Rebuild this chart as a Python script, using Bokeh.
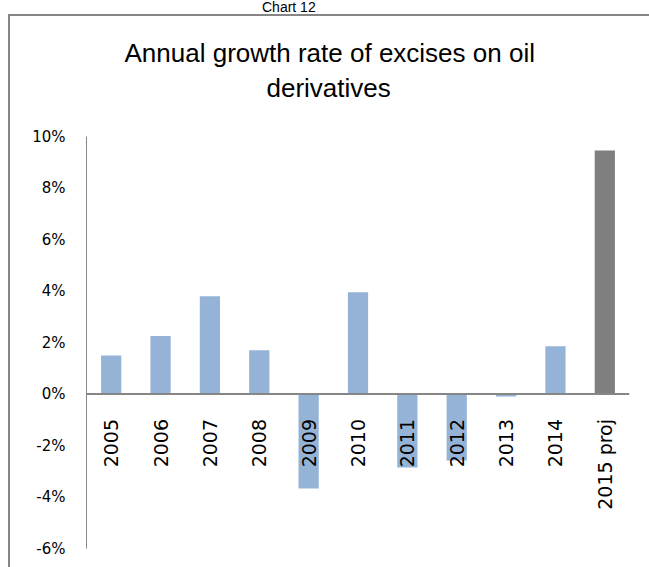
import math
from bokeh.plotting import figure
from bokeh.layouts import column
from bokeh.models import (Range1d, FixedTicker, NumeralTickFormatter, Span,
                          Title, Div, ColumnDataSource)
from bokeh.core.properties import value
from bokeh.embed import file_html
from bokeh.resources import INLINE

# ---- data ----
categories = ["2005", "2006", "2007", "2008", "2009", "2010",
              "2011", "2012", "2013", "2014", "2015 proj"]
growth_pct = [1.5, 2.25, 3.8, 1.7, -3.67, 3.95, -2.85, -2.58, -0.1, 1.85, 9.46]
bar_colors = ["#95B3D7"] * 10 + ["#7F7F7F"]
y_ticks_pct = [-6, -4, -2, 0, 2, 4, 6, 8, 10]
title_line1 = "Annual growth rate of excises on oil"
title_line2 = "derivatives"
chart_caption = "Chart 12"

growth = [v / 100.0 for v in growth_pct]
src = ColumnDataSource(dict(cat=categories, val=growth, color=bar_colors,
                            zero=[0.0] * len(categories)))

p = figure(width=649, height=560, x_range=categories,
           y_range=Range1d(-0.06, 0.10), output_backend="svg",
           toolbar_location=None, x_axis_location=None,
           min_border_left=76, min_border_right=30,
           min_border_top=120, min_border_bottom=28,
           margin=(0, 0, 0, 8))
p.styles = {"border-top": "2px solid #868686",
            "border-left": "2px solid #868686",
            "border-right": "none", "border-bottom": "none"}
p.title = None
p.outline_line_color = None
p.background_fill_color = "white"
p.border_fill_color = "white"
p.xgrid.visible = False
p.ygrid.visible = False

p.vbar(x="cat", top="val", bottom=0, width=0.41, fill_color="color",
       line_color=None, source=src)

# zero line acting as category axis
p.add_layout(Span(location=0, dimension="width", line_color="#868686",
                  line_width=2))

# y axis
ya = p.yaxis[0]
ya.ticker = FixedTicker(ticks=[t / 100.0 for t in y_ticks_pct])
ya.formatter = NumeralTickFormatter(format="0%")
ya.major_tick_in = 0
ya.major_tick_out = 0
ya.minor_tick_in = 0
ya.minor_tick_out = 0
ya.axis_line_color = "#868686"
ya.axis_line_width = 1
ya.major_label_standoff = 21
ya.major_label_text_font = "DejaVu Sans"
ya.major_label_text_font_size = "15px"
ya.major_label_text_color = "black"

# category labels, vertical, hanging below the zero line
p.text(x="cat", y="zero", text="cat", source=src, angle=math.pi / 2,
       text_align="right", text_baseline="middle", y_offset=25,
       text_font=value("DejaVu Sans"), text_font_size="19px",
       text_color="black")

# title lines (second line added first: it sits closest to the frame)
p.add_layout(Title(text=title_line2, align="left", offset=180, standoff=67,
                   text_font="Liberation Sans", text_font_size="26px",
                   text_font_style="normal", text_color="black"), "above")
p.add_layout(Title(text=title_line1, align="left", offset=38, standoff=-61,
                   text_font="Liberation Sans", text_font_size="26px",
                   text_font_style="normal", text_color="black"), "above")

caption = Div(text=chart_caption, width=70, height=14,
              margin=(0, 0, 0, 262),
              styles={"font-family": "Liberation Sans",
                      "font-size": "14px", "line-height": "14px",
                      "color": "black", "white-space": "nowrap",
                      "overflow": "hidden"})

root = column(caption, p, spacing=0, width=649, height=567,
              styles={"overflow": "hidden"})
open("out.html", "w").write(file_html(root, INLINE))
